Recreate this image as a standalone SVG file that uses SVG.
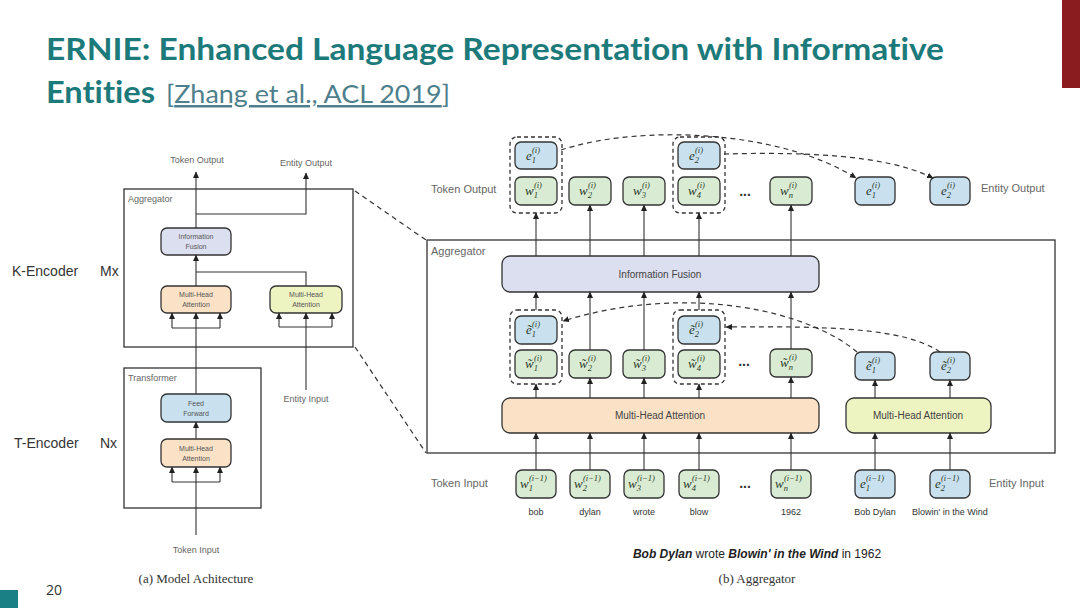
<svg xmlns="http://www.w3.org/2000/svg" width="1080" height="608" viewBox="0 0 1080 608">
<defs>
<marker id="ah" markerUnits="userSpaceOnUse" markerWidth="7" markerHeight="7" refX="6" refY="3.5" orient="auto">
<path d="M0,0.5 L6.5,3.5 L0,6.5 z" fill="#222"/>
</marker>
<style>
.t{font-family:"Liberation Sans",Arial,sans-serif;fill:#666}
.ts{font-family:"Liberation Sans",Arial,sans-serif;fill:#555;font-size:7px;text-anchor:middle}
.ser{font-family:"Liberation Serif","Times New Roman",serif;fill:#333}
.m{font-family:"Liberation Serif","Times New Roman",serif;font-style:italic;font-size:13px;fill:#2a3a2a}
.s{font-size:8.5px}
.g{fill:#d9ebd2;stroke:#333;stroke-width:1.3}
.b{fill:#c9e0ef;stroke:#333;stroke-width:1.3}
.o{fill:#fbe2c6;stroke:#333;stroke-width:1.3}
.y{fill:#eef3c2;stroke:#333;stroke-width:1.3}
.p{fill:#dcdff0;stroke:#333;stroke-width:1.3}
.box{fill:none;stroke:#333;stroke-width:1.3}
.db{fill:none;stroke:#333;stroke-width:1.3;stroke-dasharray:4 3}
.ln{fill:none;stroke:#333;stroke-width:1.1}
.ar{fill:none;stroke:#333;stroke-width:1.1;marker-end:url(#ah)}
.dl{fill:none;stroke:#333;stroke-width:1.2;stroke-dasharray:5 4}
.da{fill:none;stroke:#333;stroke-width:1.2;stroke-dasharray:5 4;marker-end:url(#ah)}
.ttl{font-family:Lato,"Open Sans",sans-serif;font-variant-ligatures:none}
</style>
</defs>
<rect width="1080" height="608" fill="#fff"/>
<rect x="1062" y="0" width="18" height="88" fill="#8a1b1f"/>
<rect x="0" y="590" width="18" height="18" fill="#1b7f86"/>

<g id="title">
<text x="46" y="60" class="ttl" font-weight="bold" font-size="30" fill="#1d7a7b" textLength="898" lengthAdjust="spacingAndGlyphs">ERNIE: Enhanced Language Representation with Informative</text>
<text x="46" y="103" class="ttl" font-size="30" fill="#1d7a7b" font-weight="bold" textLength="109" lengthAdjust="spacingAndGlyphs">Entities</text>
<text x="166" y="103" class="ttl" font-size="25" fill="#4f7f8c" textLength="284" lengthAdjust="spacingAndGlyphs">[<tspan text-decoration="underline">Zhang et al., ACL 2019</tspan>]</text>
</g>
<text x="46" y="595" font-family="'Open Sans','Liberation Sans',sans-serif" font-size="14" fill="#333">20</text>

<!-- LEFT: model architecture -->
<g id="left-labels">
<text x="12" y="276" class="t" font-size="14" style="fill:#333">K-Encoder</text>
<text x="100" y="276" class="t" font-size="14" style="fill:#333">Mx</text>
<text x="14" y="448" class="t" font-size="14" style="fill:#333">T-Encoder</text>
<text x="100" y="448" class="t" font-size="14" style="fill:#333">Nx</text>
<text x="197" y="163" class="t" font-size="9" text-anchor="middle">Token Output</text>
<text x="306" y="166" class="t" font-size="9" text-anchor="middle">Entity Output</text>
<text x="306" y="402" class="t" font-size="9" text-anchor="middle">Entity Input</text>
<text x="196" y="553" class="t" font-size="9" text-anchor="middle">Token Input</text>
<text x="196" y="583" class="ser" font-size="13" text-anchor="middle">(a) Model Achitecture</text>
</g>
<g id="left-aggregator">
<rect x="124" y="189" width="229" height="158" class="box"/>
<text x="128" y="202" class="t" font-size="9">Aggregator</text>
</g>
<g id="left-fusion">
<rect x="161" y="228" width="70" height="27" rx="6" class="p"/>
<text x="196" y="239" class="ts">Information</text>
<text x="196" y="249" class="ts">Fusion</text>
</g>
<g id="left-mha-token">
<rect x="161" y="286" width="70" height="27" rx="6" class="o"/>
<text x="196" y="297" class="ts">Multi-Head</text>
<text x="196" y="307" class="ts">Attention</text>
</g>
<g id="left-mha-entity">
<rect x="270" y="286" width="72" height="27" rx="6" class="y"/>
<text x="306" y="297" class="ts">Multi-Head</text>
<text x="306" y="307" class="ts">Attention</text>
</g>
<g id="left-transformer">
<rect x="124" y="368" width="137" height="140" class="box"/>
<text x="128" y="381" class="t" font-size="9">Transformer</text>
</g>
<g id="left-ff">
<rect x="161" y="394" width="70" height="28" rx="6" class="b"/>
<text x="196" y="406" class="ts">Feed</text>
<text x="196" y="416" class="ts">Forward</text>
</g>
<g id="left-mha-t">
<rect x="161" y="439" width="70" height="28" rx="6" class="o"/>
<text x="196" y="451" class="ts">Multi-Head</text>
<text x="196" y="461" class="ts">Attention</text>
</g>

<g id="left-connectors">
<path class="ln" d="M196 535 V482 M172 482 H220"/>
<path class="ar" d="M172 482 V467"/><path class="ar" d="M196 482 V467"/><path class="ar" d="M220 482 V467"/>
<path class="ar" d="M196 439 V422"/>
<path class="ln" d="M196 394 V328 M172 328 H220"/>
<path class="ar" d="M172 328 V313"/><path class="ar" d="M196 328 V313"/><path class="ar" d="M220 328 V313"/>
<path class="ln" d="M306 390 V327 M279 327 H332"/>
<path class="ar" d="M279 327 V313"/><path class="ar" d="M306 327 V313"/><path class="ar" d="M332 327 V313"/>
<path class="ar" d="M196 286 V255"/>
<path class="ln" d="M196 272 H306 V286"/>
<path class="ar" d="M196 228 V172"/>
<path class="ar" d="M196 214 H306 V173"/>
<path class="dl" d="M355 191 L426 240 M355 347 L426 453"/>
</g>

<!-- RIGHT: aggregator -->
<g id="right-labels">
<text x="431" y="193" class="t" font-size="11">Token Output</text>
<text x="981" y="192" class="t" font-size="11">Entity Output</text>
<text x="431" y="487" class="t" font-size="11">Token Input</text>
<text x="989" y="487" class="t" font-size="11">Entity Input</text>
<g class="t" font-size="9" text-anchor="middle" style="fill:#333">
<text x="536" y="515">bob</text><text x="590" y="515">dylan</text><text x="644" y="515">wrote</text><text x="699" y="515">blow</text><text x="791" y="515">1962</text><text x="875" y="515">Bob Dylan</text><text x="950" y="515">Blowin' in the Wind</text>
</g>
<text x="757" y="558" class="t" font-size="12" text-anchor="middle" style="fill:#222"><tspan font-weight="bold" font-style="italic">Bob Dylan</tspan> wrote <tspan font-weight="bold" font-style="italic">Blowin' in the Wind</tspan> in 1962</text>
<text x="757" y="583" class="ser" font-size="13" text-anchor="middle">(b) Aggregator</text>
<g class="t" font-size="14" font-weight="bold" text-anchor="middle" style="fill:#333">
<text x="745" y="196">...</text><text x="744" y="366">...</text><text x="745" y="488">...</text>
</g>
</g>
<g id="right-aggregator">
<rect x="427" y="240" width="628" height="213" class="box"/>
<text x="431" y="255" class="t" font-size="11">Aggregator</text>
</g>
<g id="fusion">
<rect x="502" y="256" width="317" height="36" rx="8" class="p"/>
<text x="660" y="278" class="t" font-size="10" text-anchor="middle" style="fill:#444">Information Fusion</text>
</g>
<g id="mha-token">
<rect x="502" y="398" width="317" height="35" rx="8" class="o"/>
<text x="660" y="419" class="t" font-size="10" text-anchor="middle" style="fill:#444">Multi-Head Attention</text>
</g>
<g id="mha-entity">
<rect x="846" y="398" width="145" height="35" rx="8" class="y"/>
<text x="918" y="419" class="t" font-size="10" text-anchor="middle" style="fill:#444">Multi-Head Attention</text>
</g>

<!-- top row -->
<g id="out-group1">
<rect x="510" y="137" width="52" height="76" rx="7" class="db"/>
<rect x="515" y="142" width="42" height="27" rx="6" class="b"/>
<text x="526" y="160" class="m">e<tspan class="s" dy="3">1</tspan><tspan class="s" dx="-4" dy="-10">(i)</tspan></text>
<rect x="515" y="177" width="42" height="28" rx="6" class="g"/>
<text x="525" y="195" class="m">w<tspan class="s" dy="3">1</tspan><tspan class="s" dx="-4" dy="-10">(i)</tspan></text>
</g>
<g id="out-w2">
<rect x="569" y="177" width="42" height="28" rx="6" class="g"/>
<text x="579" y="195" class="m">w<tspan class="s" dy="3">2</tspan><tspan class="s" dx="-4" dy="-10">(i)</tspan></text>
</g>
<g id="out-w3">
<rect x="623" y="177" width="42" height="28" rx="6" class="g"/>
<text x="633" y="195" class="m">w<tspan class="s" dy="3">3</tspan><tspan class="s" dx="-4" dy="-10">(i)</tspan></text>
</g>
<g id="out-group2">
<rect x="673" y="137" width="52" height="76" rx="7" class="db"/>
<rect x="678" y="142" width="42" height="27" rx="6" class="b"/>
<text x="689" y="160" class="m">e<tspan class="s" dy="3">2</tspan><tspan class="s" dx="-4" dy="-10">(i)</tspan></text>
<rect x="678" y="177" width="42" height="28" rx="6" class="g"/>
<text x="688" y="195" class="m">w<tspan class="s" dy="3">4</tspan><tspan class="s" dx="-4" dy="-10">(i)</tspan></text>
</g>
<g id="out-wn">
<rect x="770" y="177" width="42" height="28" rx="6" class="g"/>
<text x="780" y="195" class="m">w<tspan class="s" dy="3">n</tspan><tspan class="s" dx="-4" dy="-10">(i)</tspan></text>
</g>
<g id="out-e1">
<rect x="855" y="177" width="40" height="28" rx="6" class="b"/>
<text x="866" y="195" class="m">e<tspan class="s" dy="3">1</tspan><tspan class="s" dx="-4" dy="-10">(i)</tspan></text>
</g>
<g id="out-e2">
<rect x="930" y="177" width="40" height="28" rx="6" class="b"/>
<text x="941" y="195" class="m">e<tspan class="s" dy="3">2</tspan><tspan class="s" dx="-4" dy="-10">(i)</tspan></text>
</g>

<!-- middle row -->
<g id="mid-group1">
<rect x="510" y="310" width="52" height="74" rx="7" class="db"/>
<rect x="515" y="316" width="42" height="28" rx="6" class="b"/>
<text x="526" y="334" class="m">ẽ<tspan class="s" dy="3">1</tspan><tspan class="s" dx="-4" dy="-10">(i)</tspan></text>
<rect x="515" y="350" width="42" height="28" rx="6" class="g"/>
<text x="525" y="368" class="m">w̃<tspan class="s" dy="3">1</tspan><tspan class="s" dx="-4" dy="-10">(i)</tspan></text>
</g>
<g id="mid-w2">
<rect x="569" y="350" width="42" height="28" rx="6" class="g"/>
<text x="579" y="368" class="m">w̃<tspan class="s" dy="3">2</tspan><tspan class="s" dx="-4" dy="-10">(i)</tspan></text>
</g>
<g id="mid-w3">
<rect x="623" y="350" width="42" height="28" rx="6" class="g"/>
<text x="633" y="368" class="m">w̃<tspan class="s" dy="3">3</tspan><tspan class="s" dx="-4" dy="-10">(i)</tspan></text>
</g>
<g id="mid-group2">
<rect x="673" y="310" width="52" height="74" rx="7" class="db"/>
<rect x="678" y="316" width="42" height="28" rx="6" class="b"/>
<text x="689" y="334" class="m">ẽ<tspan class="s" dy="3">2</tspan><tspan class="s" dx="-4" dy="-10">(i)</tspan></text>
<rect x="678" y="350" width="42" height="28" rx="6" class="g"/>
<text x="688" y="368" class="m">w̃<tspan class="s" dy="3">4</tspan><tspan class="s" dx="-4" dy="-10">(i)</tspan></text>
</g>
<g id="mid-wn">
<rect x="770" y="349" width="42" height="28" rx="6" class="g"/>
<text x="780" y="367" class="m">w̃<tspan class="s" dy="3">n</tspan><tspan class="s" dx="-4" dy="-10">(i)</tspan></text>
</g>
<g id="mid-e1">
<rect x="855" y="352" width="40" height="28" rx="6" class="b"/>
<text x="866" y="370" class="m">ẽ<tspan class="s" dy="3">1</tspan><tspan class="s" dx="-4" dy="-10">(i)</tspan></text>
</g>
<g id="mid-e2">
<rect x="930" y="352" width="40" height="28" rx="6" class="b"/>
<text x="941" y="370" class="m">ẽ<tspan class="s" dy="3">2</tspan><tspan class="s" dx="-4" dy="-10">(i)</tspan></text>
</g>

<!-- input row -->
<g id="in-w1"><rect x="516" y="470" width="40" height="28" rx="6" class="g"/>
<text x="520" y="488" class="m">w<tspan class="s" dy="3">1</tspan><tspan class="s" dx="-4" dy="-10">(i−1)</tspan></text></g>
<g id="in-w2"><rect x="570" y="470" width="40" height="28" rx="6" class="g"/>
<text x="574" y="488" class="m">w<tspan class="s" dy="3">2</tspan><tspan class="s" dx="-4" dy="-10">(i−1)</tspan></text></g>
<g id="in-w3"><rect x="624" y="470" width="40" height="28" rx="6" class="g"/>
<text x="628" y="488" class="m">w<tspan class="s" dy="3">3</tspan><tspan class="s" dx="-4" dy="-10">(i−1)</tspan></text></g>
<g id="in-w4"><rect x="679" y="470" width="40" height="28" rx="6" class="g"/>
<text x="683" y="488" class="m">w<tspan class="s" dy="3">4</tspan><tspan class="s" dx="-4" dy="-10">(i−1)</tspan></text></g>
<g id="in-wn"><rect x="771" y="470" width="40" height="28" rx="6" class="g"/>
<text x="775" y="488" class="m">w<tspan class="s" dy="3">n</tspan><tspan class="s" dx="-4" dy="-10">(i−1)</tspan></text></g>
<g id="in-e1"><rect x="855" y="470" width="40" height="28" rx="6" class="b"/>
<text x="860" y="488" class="m">e<tspan class="s" dy="3">1</tspan><tspan class="s" dx="-4" dy="-10">(i−1)</tspan></text></g>
<g id="in-e2"><rect x="930" y="470" width="40" height="28" rx="6" class="b"/>
<text x="935" y="488" class="m">e<tspan class="s" dy="3">2</tspan><tspan class="s" dx="-4" dy="-10">(i−1)</tspan></text></g>

<g id="connectors">
<path class="ar" d="M536 470 V433"/><path class="ar" d="M590 470 V433"/><path class="ar" d="M644 470 V433"/><path class="ar" d="M699 470 V433"/><path class="ar" d="M791 470 V433"/>
<path class="ar" d="M875 470 V433"/><path class="ar" d="M950 470 V433"/>
<path class="ar" d="M536 398 V384"/><path class="ar" d="M590 398 V378"/><path class="ar" d="M644 398 V378"/><path class="ar" d="M699 398 V384"/><path class="ar" d="M791 398 V377"/>
<path class="ar" d="M875 398 V380"/><path class="ar" d="M950 398 V380"/>
<path class="ar" d="M536 310 V292"/><path class="ar" d="M590 350 V292"/><path class="ar" d="M644 350 V292"/><path class="ar" d="M699 310 V292"/><path class="ar" d="M791 349 V292"/>
<path class="ar" d="M536 256 V213"/><path class="ar" d="M590 256 V205"/><path class="ar" d="M644 256 V205"/><path class="ar" d="M699 256 V213"/><path class="ar" d="M791 256 V205"/>
<path class="da" d="M857 352 C810 312 690 282 563 321"/>
<path class="da" d="M940 352 C905 328 830 326 726 327"/>
<path class="da" d="M561 150 C640 124 780 130 856 178"/>
<path class="da" d="M724 154 C800 152 885 154 933 178"/>
</g>
</svg>
